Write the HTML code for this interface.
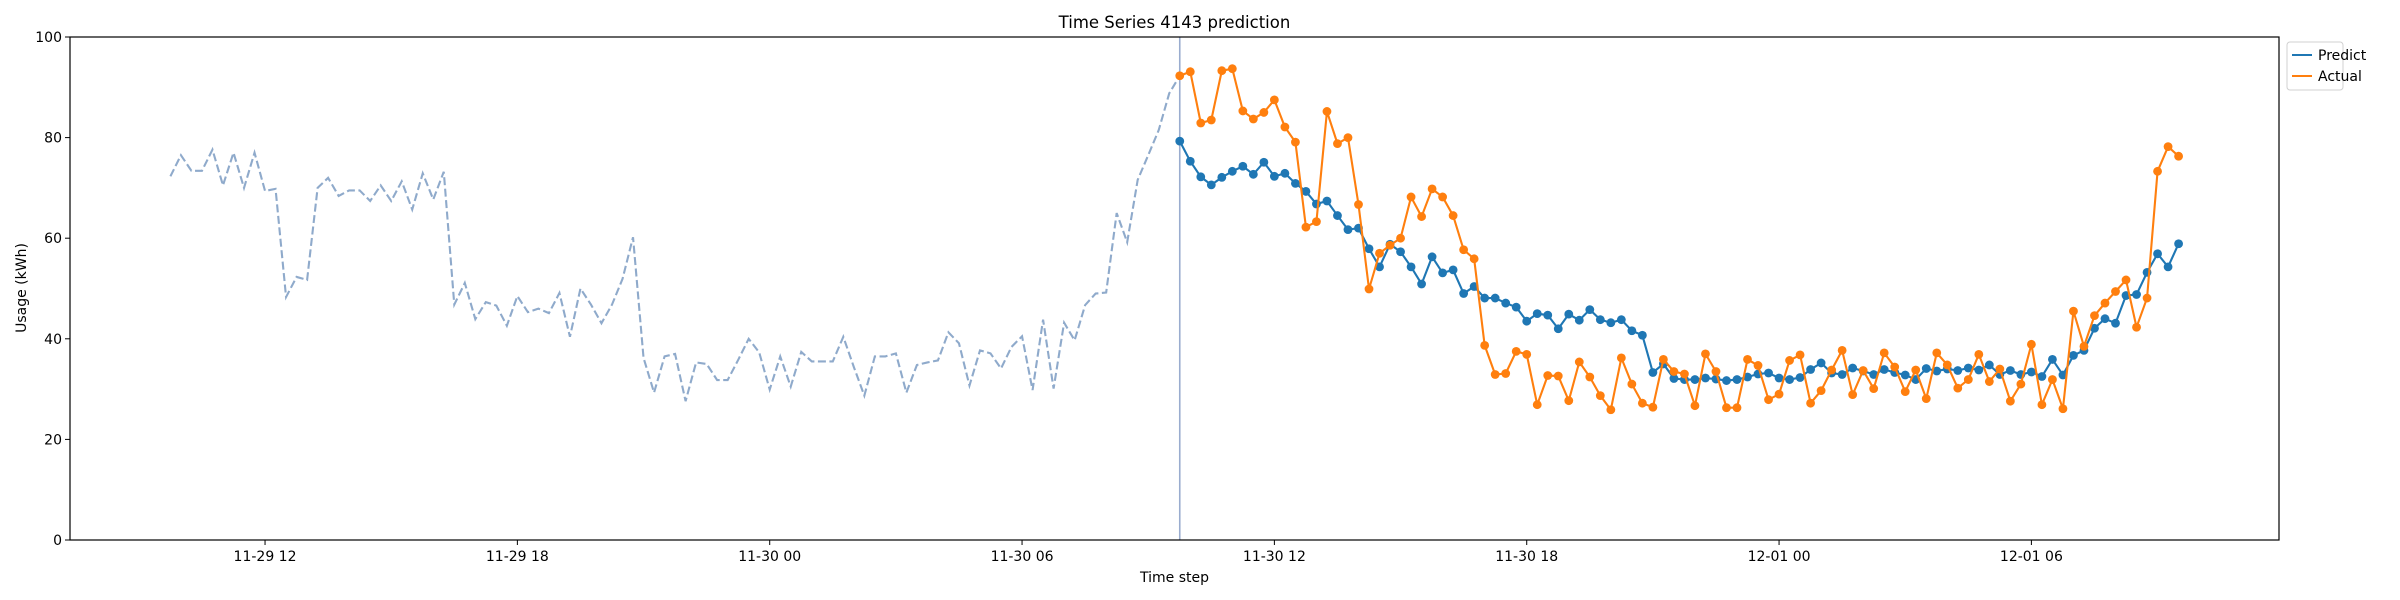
<!DOCTYPE html>
<html><head><meta charset="utf-8"><title>Time Series 4143 prediction</title>
<style>
html,body{margin:0;padding:0;background:#fff;}
svg{display:block;font-family:"DejaVu Sans","Liberation Sans",sans-serif;}
</style></head>
<body>
<svg id="chart" width="2400" height="600" viewBox="0 0 2400 600" xmlns="http://www.w3.org/2000/svg">
<rect width="2400" height="600" fill="#fff"/>
<text x="1174.5" y="28" font-size="16.5" text-anchor="middle">Time Series 4143 prediction</text>
<g id="plot"></g>
<text transform="translate(26,288) rotate(-90)" font-size="14" text-anchor="middle">Usage (kWh)</text>
<text x="1174.5" y="582" font-size="14" text-anchor="middle">Time step</text>
<g>
<rect x="2287" y="42" width="56" height="48" rx="3" fill="#fff" stroke="#d0d0d0"/>
<g>
<line x1="2292" y1="55" x2="2312" y2="55" stroke="#1f77b4" stroke-width="2.1"/>
<text x="2318" y="60" font-size="14">Predict</text></g>
<g>
<line x1="2292" y1="76" x2="2312" y2="76" stroke="#ff7f0e" stroke-width="2.1"/>
<text x="2318" y="81" font-size="14">Actual</text></g>
</g>
</svg>
<script>
const history=[72.3,76.5,73.4,73.4,77.6,70.5,77.0,70.0,77.0,69.4,69.8,48.3,52.3,51.7,70.0,72.0,68.4,69.5,69.5,67.4,70.5,67.4,71.3,65.7,72.9,67.7,73.2,46.8,51.1,43.9,47.3,46.6,42.6,48.5,45.3,46.0,45.1,49.1,40.4,50.0,46.8,43.1,46.8,51.9,60.2,36.2,29.3,36.5,37.0,27.6,35.3,35.0,31.8,31.8,35.8,40.0,37.3,29.9,36.5,30.5,37.4,35.5,35.5,35.5,40.4,34.4,28.7,36.5,36.5,37.1,29.3,34.8,35.3,35.7,41.3,39.1,30.7,37.7,37.1,34.1,38.4,40.5,29.8,43.8,30.1,43.2,39.7,46.7,49.0,49.2,65.0,59.2,71.6,76.5,81.5,88.8];
const predict=[79.3,75.3,72.2,70.6,72.1,73.3,74.3,72.7,75.1,72.3,72.9,70.9,69.3,66.8,67.4,64.5,61.7,62.0,57.9,54.3,58.8,57.3,54.3,50.9,56.3,53.1,53.7,49.0,50.4,48.1,48.1,47.1,46.3,43.5,45.0,44.7,42.0,44.9,43.7,45.8,43.8,43.2,43.8,41.6,40.7,33.3,35.0,32.1,31.9,31.9,32.2,32.0,31.7,31.9,32.4,33.0,33.2,32.2,31.9,32.3,33.9,35.2,33.2,32.9,34.2,33.6,32.9,33.9,33.3,32.8,31.9,34.1,33.6,34.0,33.7,34.2,33.8,34.8,32.9,33.7,32.9,33.4,32.5,35.9,32.8,36.7,37.7,42.1,44.0,43.1,48.6,48.8,53.2,56.9,54.3,58.9];
const actual=[92.3,93.1,82.9,83.5,93.3,93.7,85.3,83.7,85.0,87.5,82.1,79.1,62.2,63.3,85.2,78.8,80.0,66.7,49.9,57.0,58.6,60.0,68.2,64.3,69.8,68.2,64.5,57.7,55.9,38.7,32.9,33.1,37.5,36.9,26.9,32.7,32.6,27.7,35.4,32.4,28.7,25.9,36.2,31.0,27.2,26.4,35.9,33.5,33.0,26.7,37.0,33.5,26.3,26.3,35.9,34.7,27.9,29.0,35.7,36.8,27.2,29.7,33.8,37.7,28.9,33.7,30.1,37.2,34.4,29.5,33.8,28.1,37.2,34.8,30.2,31.9,36.9,31.5,34.0,27.6,31.0,38.9,26.9,31.9,26.1,45.5,38.5,44.6,47.1,49.4,51.7,42.3,48.1,73.3,78.2,76.3];
const yTicks=[0,20,40,60,80,100];
const xTickLabels=["11-29 12","11-29 18","11-30 00","11-30 06","11-30 12","11-30 18","12-01 00","12-01 06"];
const xTickSteps=[9,33,57,81,105,129,153,177];

const L=70,R=2279,T=37,B=540;
const xMin=-9.55,xMax=200.55,yMin=0,yMax=100;
function xs(i){return L+(i-xMin)/(xMax-xMin)*(R-L);}
function ys(v){return B-(v-yMin)/(yMax-yMin)*(B-T);}
const NS="http://www.w3.org/2000/svg";
const g=document.getElementById('plot');
function mk(tag,attrs,parent){const e=document.createElementNS(NS,tag);for(const k in attrs)e.setAttribute(k,attrs[k]);(parent||g).appendChild(e);return e;}

// y ticks
yTicks.forEach(v=>{
  const y=ys(v);
  const t=mk('line',{x1:L-5,x2:L,y1:y,y2:y,stroke:'#000','stroke-width':1});
  
  
  const lb=mk('text',{x:L-8,y:y+5,'font-size':14,'text-anchor':'end'});
  
  
  lb.textContent=v;
});
// x ticks
xTickSteps.forEach((s,k)=>{
  const x=xs(s);
  const t=mk('line',{x1:x,x2:x,y1:B,y2:B+5,stroke:'#000','stroke-width':1});
  
  
  const lb=mk('text',{x:x,y:B+21,'font-size':14,'text-anchor':'middle'});
  
  
  lb.textContent=xTickLabels[k];
});

const n0=history.length;
// history dashed line (connects to first actual)
let hp=history.map((v,i)=>xs(i)+','+ys(v));
hp.push(xs(n0)+','+ys(actual[0]));
const hl=mk('polyline',{points:hp.join(' '),fill:'none',stroke:'#8faacb','stroke-width':2.1,'stroke-dasharray':'8,3.5'});



// vertical forecast start line
const vl=mk('line',{x1:xs(n0),x2:xs(n0),y1:T,y2:B,stroke:'#9aaccf','stroke-width':1.6});



function series(arr,color,name){
  const pts=arr.map((v,i)=>xs(n0+i)+','+ys(v)).join(' ');
  const pl=mk('polyline',{points:pts,fill:'none',stroke:color,'stroke-width':2.1});
  
  
  arr.forEach((v,i)=>{
    const c=mk('circle',{cx:xs(n0+i),cy:ys(v),r:4.4,fill:color});
    
    
  });
}
series(predict,'#1f77b4','predict');
series(actual,'#ff7f0e','actual');

const fr=mk('rect',{x:L,y:T,width:R-L,height:B-T,fill:'none',stroke:'#000','stroke-width':1.2});


</script>
</body></html>
